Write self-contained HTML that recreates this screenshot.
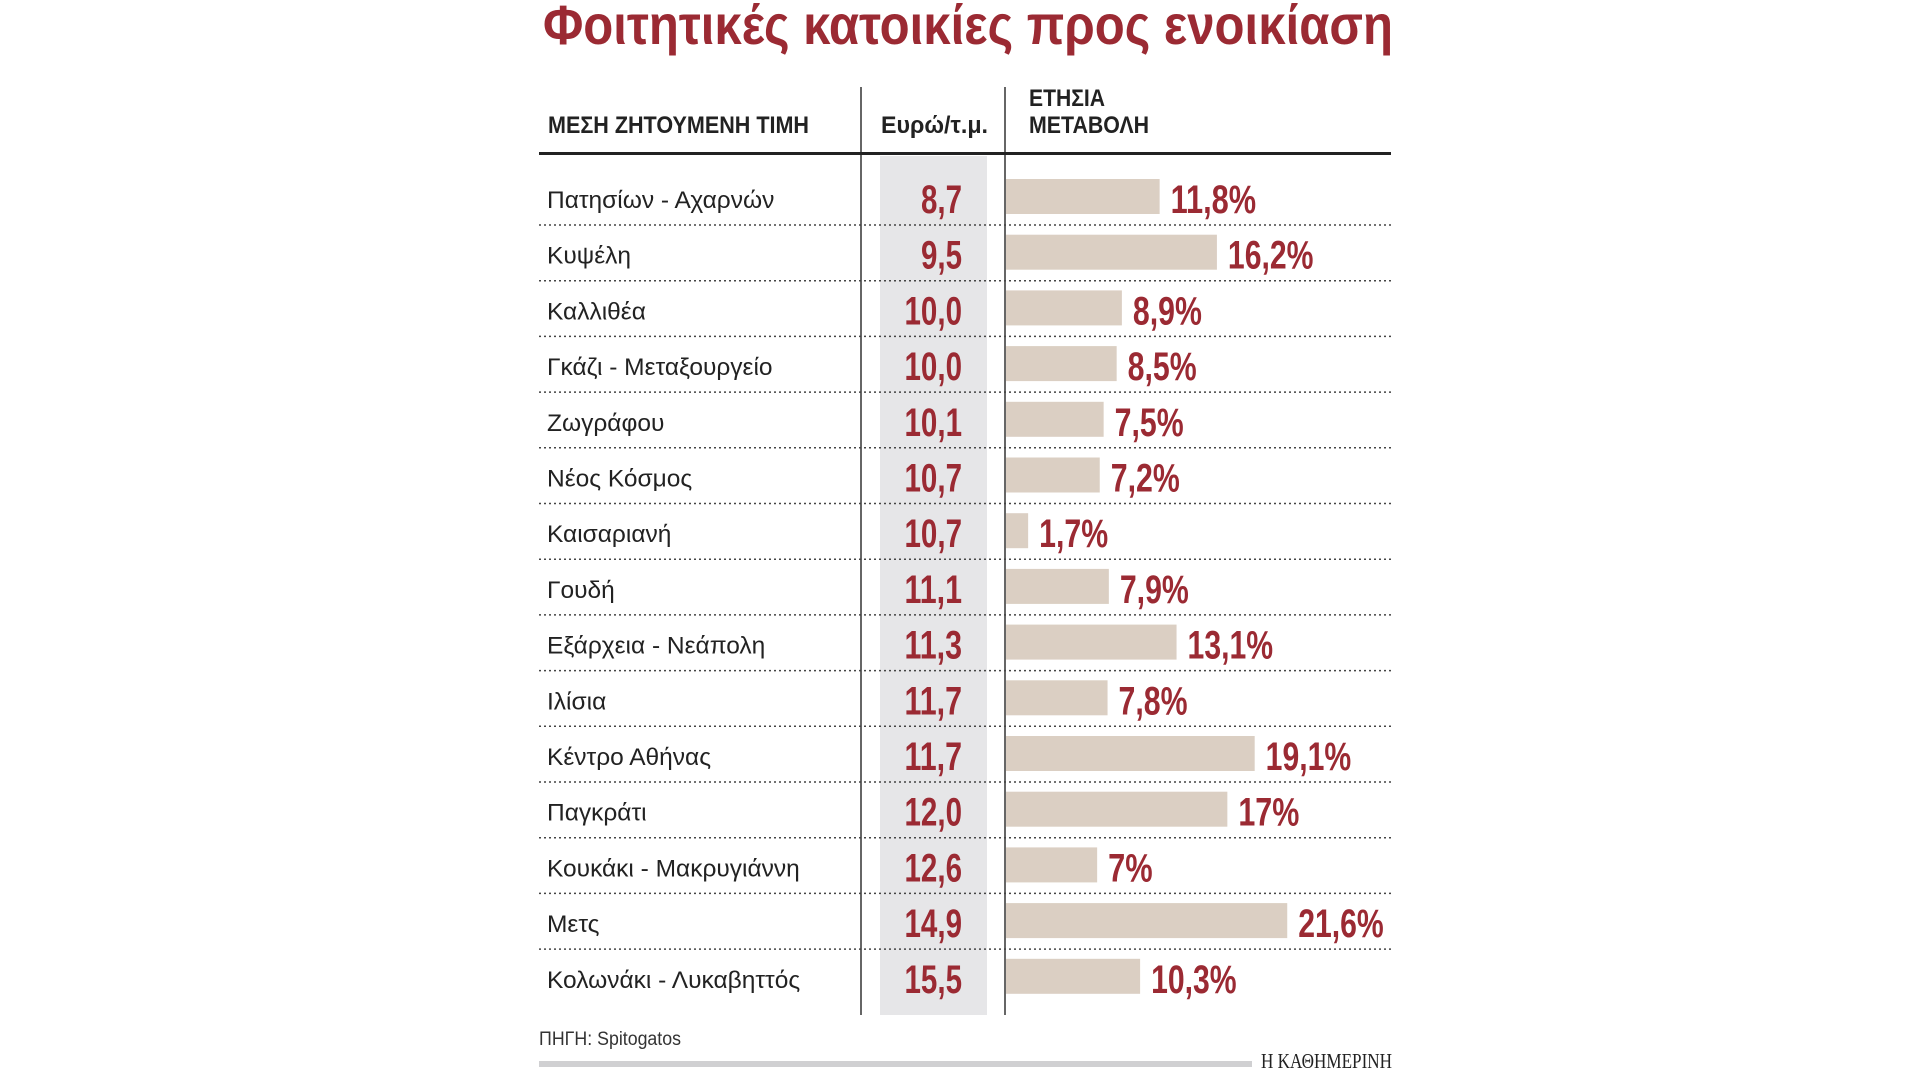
<!DOCTYPE html>
<html><head><meta charset="utf-8"><style>html,body{margin:0;padding:0;background:#fff;width:1920px;height:1080px;overflow:hidden}</style></head>
<body>
<svg width="1920" height="1080" xmlns="http://www.w3.org/2000/svg" font-family="Liberation Sans, DejaVu Sans, sans-serif">
<text x="543" y="44" font-size="56" font-weight="bold" fill="#9b2a33" textLength="850" lengthAdjust="spacingAndGlyphs">Φοιτητικές κατοικίες προς ενοικίαση</text>
<rect x="880" y="156" width="107" height="859" fill="#e6e6e8"/>
<line x1="861" y1="87" x2="861" y2="1015" stroke="#333" stroke-width="1.5"/>
<line x1="1005" y1="87" x2="1005" y2="1015" stroke="#333" stroke-width="1.5"/>
<line x1="539" y1="153.5" x2="1391" y2="153.5" stroke="#222" stroke-width="3"/>
<g font-weight="bold" fill="#222" font-size="24">
<text x="548" y="133" textLength="261" lengthAdjust="spacingAndGlyphs">ΜΕΣΗ ΖΗΤΟΥΜΕΝΗ ΤΙΜΗ</text>
<text x="881" y="133" textLength="107" lengthAdjust="spacingAndGlyphs">Ευρώ/τ.μ.</text>
<text x="1029" y="106" textLength="76" lengthAdjust="spacingAndGlyphs">ΕΤΗΣΙΑ</text>
<text x="1029" y="133" textLength="120" lengthAdjust="spacingAndGlyphs">ΜΕΤΑΒΟΛΗ</text>
</g>
<g id="rows"></g>
<text x="539" y="1045" font-size="19" fill="#333" textLength="142" lengthAdjust="spacingAndGlyphs">ΠΗΓΗ: Spitogatos</text>
<rect x="539" y="1061" width="713" height="6" fill="#d0d0d2"/>
<text x="1261" y="1068" font-family="Liberation Serif, serif" font-size="21" fill="#222" textLength="131" lengthAdjust="spacingAndGlyphs">Η ΚΑΘΗΜΕΡΙΝΗ</text>
</svg>
<script>
var d=[["Πατησίων - Αχαρνών","8,7",11.8,"11,8%"],["Κυψέλη","9,5",16.2,"16,2%"],["Καλλιθέα","10,0",8.9,"8,9%"],["Γκάζι - Μεταξουργείο","10,0",8.5,"8,5%"],["Ζωγράφου","10,1",7.5,"7,5%"],["Νέος Κόσμος","10,7",7.2,"7,2%"],["Καισαριανή","10,7",1.7,"1,7%"],["Γουδή","11,1",7.9,"7,9%"],["Εξάρχεια - Νεάπολη","11,3",13.1,"13,1%"],["Ιλίσια","11,7",7.8,"7,8%"],["Κέντρο Αθήνας","11,7",19.1,"19,1%"],["Παγκράτι","12,0",17,"17%"],["Κουκάκι - Μακρυγιάννη","12,6",7,"7%"],["Μετς","14,9",21.6,"21,6%"],["Κολωνάκι - Λυκαβηττός","15,5",10.3,"10,3%"]];
function w(s){var t=0;for(var c of s){t+=c==","?8:c=="%"?28:16.5}return t}
var h="";
d.forEach(function(r,i){var o=i*55.7;var bw=r[2]*13.02;
h+='<rect x="1006" y="'+(179+o)+'" width="'+bw+'" height="35" fill="#dbcfc3"/>';
h+='<text x="547" y="'+(208+o)+'" font-size="24.5" fill="#222">'+r[0]+'</text>';
h+='<text x="'+(962-w(r[1]))+'" y="'+(213+o)+'" font-size="40" font-weight="bold" fill="#9b2a33" textLength="'+w(r[1])+'" lengthAdjust="spacingAndGlyphs">'+r[1]+'</text>';
h+='<text x="'+(1006+bw+11)+'" y="'+(213+o)+'" font-size="40" font-weight="bold" fill="#9b2a33" textLength="'+w(r[3])+'" lengthAdjust="spacingAndGlyphs">'+r[3]+'</text>';
if(i<14)h+='<line x1="539" y1="'+(225+o)+'" x2="1391" y2="'+(225+o)+'" stroke="#444" stroke-width="1.5" stroke-dasharray="2,3"/>';
});
document.getElementById("rows").innerHTML=h;
</script>
</body></html>
